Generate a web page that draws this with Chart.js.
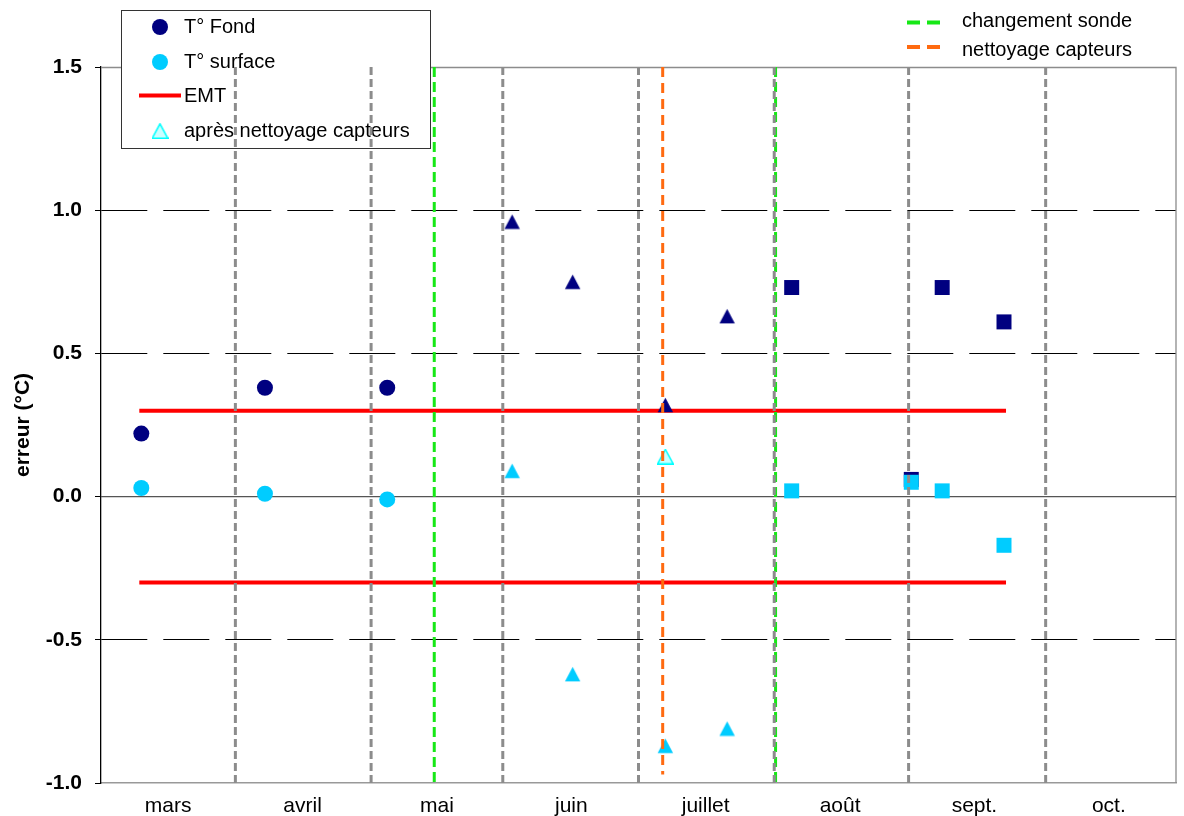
<!DOCTYPE html>
<html lang="fr">
<head>
<meta charset="utf-8">
<title>Erreur de mesure de température</title>
<script src="https://cdn.jsdelivr.net/npm/chart.js@4.4.1/dist/chart.umd.min.js"></script>
<style>
  html, body { margin: 0; padding: 0; background: #fff; overflow: hidden; }
  #wrap { width: 1184px; height: 816px; position: relative; }
</style>
</head>
<body>
<div id="wrap"><canvas id="chart"></canvas></div>
<script>
// Month labels along the time axis (1 unit = 1 month, 0 = début mars)
const months = ['mars', 'avril', 'mai', 'juin', 'juillet', 'août', 'sept.', 'oct.'];
const yTickValues = [-1.0, -0.5, 0.0, 0.5, 1.0, 1.5];

// Month separators and events, in month units
const monthSeparators = [1.00, 2.01, 2.99, 4.00, 5.01, 6.01, 7.03];
const sondeChanges = [2.48, 5.02];
const nettoyages = [4.18];

// Period 1: circles
const circleX = [0.30, 1.22, 2.13];
const fondCircle = [0.22, 0.38, 0.38];
const surfaceCircle = [0.03, 0.01, -0.01];

// Period 2: triangles
const triangleX = [3.06, 3.51, 4.20, 4.66];
const fondTriangle = [0.96, 0.75, 0.32, 0.63];
const surfaceTriangle = [0.09, -0.62, -0.87, -0.81];

// Surface measurement after sensor cleaning
const cleanedX = [4.20];
const cleanedSurface = [0.14];

// Period 3: squares
const squareX = [5.14, 6.03, 6.26, 6.72];
const fondSquare = [0.73, 0.06, 0.73, 0.61];
const surfaceSquare = [0.02, 0.05, 0.02, -0.17];

// EMT tolerance band
const emtLimit = 0.3;
const emtSpan = [0.285, 6.735];

const NAVY = '#000080';
const SKY = '#00ccff';
const RED = '#ff0000';
const GREEN = '#16e816';
const ORANGE = '#ff6a10';
const GREY = '#8c8c8c';
const FONT = "'Liberation Sans', Arial, sans-serif";

const pts = (xs, ys) => xs.map((x, i) => ({ x: x, y: ys[i] }));

// Triangle marker centred on its bounding box
function triangleImage(fill, stroke) {
  const c = document.createElement('canvas');
  c.width = 17; c.height = 16;
  const g = c.getContext('2d');
  g.beginPath();
  g.moveTo(8.5, 0.8);
  g.lineTo(16.2, 15.2);
  g.lineTo(0.8, 15.2);
  g.closePath();
  g.fillStyle = fill;
  g.fill();
  if (stroke) { g.strokeStyle = stroke; g.lineWidth = 1.5; g.stroke(); }
  return c;
}
const triNavy = triangleImage(NAVY);
const triSky = triangleImage(SKY);
const triClean = triangleImage('#ccffff', '#00ffff');

function vLine(x, y0, y1, color, dash, label) {
  return {
    label: label, showLine: true, data: [{ x: x, y: y0 }, { x: x, y: y1 }],
    borderColor: color, borderWidth: 3, borderDash: dash, pointRadius: 0, order: 0
  };
}
function marker(label, data, style, radius, color, order) {
  return {
    label: label, data: data, pointStyle: style, pointRadius: radius,
    backgroundColor: color, borderColor: color, borderWidth: 0, order: order
  };
}

const datasets = [
  // zero line
  { label: 'zero', showLine: true, data: [{ x: 0, y: 0 }, { x: 8, y: 0 }],
    borderColor: '#555', borderWidth: 1.3, pointRadius: 0, order: 9 },
  ...monthSeparators.map(x => vLine(x, 1.5, -1.0, GREY, [8, 4], 'mois')),
  ...sondeChanges.map(x => vLine(x, 1.5, -1.0, GREEN, [10, 5], 'changement sonde')),
  ...nettoyages.map(x => vLine(x, 1.5, -0.97, ORANGE, [10, 6], 'nettoyage capteurs')),
  // EMT bounds
  { label: 'EMT', showLine: true, data: [{ x: emtSpan[0], y: emtLimit }, { x: emtSpan[1], y: emtLimit }],
    borderColor: RED, borderWidth: 4, pointRadius: 0, order: 4 },
  { label: 'EMT-', showLine: true, data: [{ x: emtSpan[0], y: -emtLimit }, { x: emtSpan[1], y: -emtLimit }],
    borderColor: RED, borderWidth: 4, pointRadius: 0, order: 4 },
  marker('T° Fond', pts(circleX, fondCircle), 'circle', 8, NAVY, 3),
  marker('T° surface', pts(circleX, surfaceCircle), 'circle', 8, SKY, 2),
  marker('T° Fond', pts(triangleX, fondTriangle), triNavy, 9, NAVY, 3),
  marker('T° surface', pts(triangleX, surfaceTriangle), triSky, 9, SKY, 2),
  marker('après nettoyage capteurs', pts(cleanedX, cleanedSurface), triClean, 9, '#ccffff', 1),
  marker('T° Fond', pts(squareX, fondSquare), 'rect', 10.6, NAVY, 3),
  marker('T° surface', pts(squareX, surfaceSquare), 'rect', 10.6, SKY, 2)
];

// Plot frame and the two legends
const decorations = {
  id: 'decorations',
  beforeDatasetsDraw(chart) {
    const { ctx, chartArea: a } = chart;
    ctx.save();
    ctx.strokeStyle = GREY;
    ctx.lineWidth = 1.3;
    ctx.beginPath();
    ctx.moveTo(a.left, a.top + 0.5);
    ctx.lineTo(a.right, a.top + 0.5);
    ctx.lineTo(a.right, a.bottom);
    ctx.stroke();

    // left legend box
    ctx.fillStyle = '#fff';
    ctx.fillRect(121, 10, 309, 138);
    ctx.strokeStyle = '#333';
    ctx.lineWidth = 1;
    ctx.strokeRect(121.5, 10.5, 309, 138);

    ctx.font = '20px ' + FONT;
    ctx.textBaseline = 'middle';
    ctx.textAlign = 'left';

    const rows = [
      { text: 'T° Fond', y: 27, draw: (y) => { ctx.fillStyle = NAVY; ctx.beginPath(); ctx.arc(160, y, 8, 0, Math.PI * 2); ctx.fill(); } },
      { text: 'T° surface', y: 62, draw: (y) => { ctx.fillStyle = SKY; ctx.beginPath(); ctx.arc(160, y, 8, 0, Math.PI * 2); ctx.fill(); } },
      { text: 'EMT', y: 96, draw: (y) => { ctx.strokeStyle = RED; ctx.lineWidth = 4; ctx.beginPath(); ctx.moveTo(139, y - 0.5); ctx.lineTo(181, y - 0.5); ctx.stroke(); } },
      { text: 'après nettoyage capteurs', y: 131, draw: (y) => { ctx.drawImage(triClean, 160 - 8.5, y - 8); } }
    ];
    rows.forEach(r => {
      r.draw(r.y);
      ctx.fillStyle = '#000';
      ctx.fillText(r.text, 184, r.y);
    });

    // event legend (top right)
    const ev = [
      { text: 'changement sonde', color: GREEN, y: 21, ly: 22.5 },
      { text: 'nettoyage capteurs', color: ORANGE, y: 50, ly: 47 }
    ];
    ev.forEach(e => {
      ctx.strokeStyle = e.color;
      ctx.lineWidth = 4;
      ctx.setLineDash([13, 7]);
      ctx.beginPath(); ctx.moveTo(907, e.ly); ctx.lineTo(940, e.ly); ctx.stroke();
      ctx.setLineDash([]);
      ctx.fillStyle = '#000';
      ctx.fillText(e.text, 962, e.y);
    });
    ctx.restore();
  }
};

const majorGrid = [1.0, 0.5, -0.5];

new Chart(document.getElementById('chart'), {
  type: 'scatter',
  data: { datasets: datasets },
  plugins: [decorations],
  options: {
    responsive: true,
    maintainAspectRatio: false,
    animation: false,
    events: [],
    layout: { autoPadding: false, padding: { top: 67, right: 8, left: 0, bottom: 0 } },
    plugins: { legend: { display: false }, tooltip: { enabled: false } },
    scales: {
      x: {
        type: 'linear', min: 0, max: 8,
        afterBuildTicks: (s) => { s.ticks = months.map((m, i) => ({ value: i + 0.5 })); },
        afterFit: (s) => { s.height = 33; },
        grid: { display: true, drawOnChartArea: false, drawTicks: true, tickLength: 11, color: 'rgba(0,0,0,0)' },
        border: { color: '#999', width: 1.5 },
        ticks: {
          autoSkip: false, maxRotation: 0, padding: 0, color: '#000',
          font: { family: FONT, size: 21 },
          callback: (v) => months[Math.floor(v)]
        }
      },
      y: {
        min: -1.0, max: 1.5,
        afterBuildTicks: (s) => { s.ticks = yTickValues.map(v => ({ value: v })); },
        afterFit: (s) => { s.width = 101; },
        grid: {
          color: (c) => (c.tick && majorGrid.includes(c.tick.value)) ? '#000' : 'rgba(0,0,0,0)',
          lineWidth: 1, tickLength: 6, tickColor: '#000', tickWidth: 1
        },
        border: { color: '#000', width: 1.3, dash: (c) => c.type === 'tick' ? [46, 16] : [] },
        ticks: {
          padding: 13, color: '#000',
          font: { family: FONT, size: 21, weight: 'bold' },
          callback: (v) => Number(v).toFixed(1)
        },
        title: {
          display: true, text: 'erreur (°C)', color: '#000',
          font: { family: FONT, size: 21, weight: 'bold' },
          padding: { top: 11, bottom: 0 }
        }
      }
    }
  }
});
</script>
</body>
</html>
